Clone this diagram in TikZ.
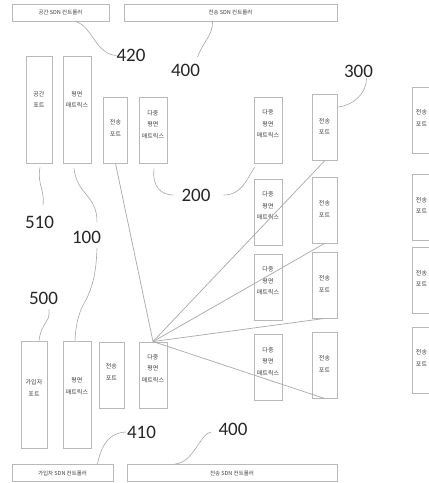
\documentclass[tikz,border=0pt]{standalone}
\usepackage{fontspec}
\newfontfamily\kr{Noto Sans CJK KR}
\newfontfamily\num{Carlito}
\usetikzlibrary{calc,shadows}

\begin{document}
\begin{tikzpicture}[x=1pt,y=-1pt,
  box/.style={draw=gray!55,line width=0.9pt,fill=white,inner sep=0pt,minimum width=28pt,
    drop shadow={shadow xshift=0.6pt,shadow yshift=-0.7pt,opacity=0.3}},
  tall/.style={box,minimum height=107pt},
  short/.style={box,minimum height=66pt},
  txt/.style={font=\kr\fontsize{6}{11.5}\selectfont,text=black!75,align=center,inner sep=0pt},
  ctl/.style={draw=gray!55,line width=0.9pt,fill=white,inner sep=0pt,minimum height=17pt,
    font=\kr\fontsize{5.5}{6}\selectfont,text=black!75},
  ref/.style={font=\num\fontsize{19}{19}\selectfont,text=black!85,inner sep=3pt},
  lead/.style={draw=gray!70,line width=0.6pt},
  link/.style={draw=gray!65,line width=0.75pt}]
  \useasboundingbox (0,0) rectangle (429,483);
  % controllers
  \node[ctl,minimum width=97pt] (csp) at (60.5,12.5) {공간 SDN 컨트롤러};
  \node[ctl,minimum width=213pt] (ctra) at (230.5,12.5) {전송 SDN 컨트롤러};
  \node[ctl,minimum width=101pt] (csub) at (62.5,473) {가입자 SDN 컨트롤러};
  \node[ctl,minimum width=210pt] (ctrb) at (232,473) {전송 SDN 컨트롤러};
  % upper row
  \node[tall,minimum width=26pt,label={[txt,yshift=10pt]center:{공간\\포트}}] (sp) at (39,109.5) {};
  \node[tall,label={[txt,yshift=10pt]center:{평면\\매트릭스}}] (pm1) at (77,109.5) {};
  \node[short,minimum width=24pt,label={[txt,yshift=2pt]center:{전송\\포트}}] (tp0) at (115.5,130) {};
  \node[short,label={[txt,yshift=6pt]center:{다중\\평면\\매트릭스}}] (mp0) at (153,130.5) {};
  % right columns
  \foreach \i/\ym/\yt/\yx in {1/130/127.5/120,2/212/210/207.5,3/287/285/280.5,4/367.5/365/360}{
    \node[short,label={[txt,yshift=6pt]center:{다중\\평면\\매트릭스}}] (mp\i) at (268,\ym) {};
    \node[short,minimum width=25pt,label={[txt,yshift=1pt]center:{전송\\포트}}] (tp\i) at (324.5,\yt) {};
    \node[short,label={[txt,xshift=-4.5pt,yshift=2pt]center:{전송\\포트}}] (xp\i) at (426,\yx) {};
  }
  % lower row
  \node[tall,minimum width=26pt,label={[txt,yshift=6.5pt]center:{가입자\\포트}}] (sub) at (34,394.5) {};
  \node[tall,label={[txt,yshift=8.5pt]center:{평면\\매트릭스}}] (pm2) at (77,394.5) {};
  \node[short,minimum width=25pt,label={[txt,yshift=3pt]center:{전송\\포트}}] (tpb) at (111.5,375) {};
  \node[short,label={[txt,yshift=6.5pt]center:{다중\\평면\\매트릭스}}] (mpb) at (153,375) {};
  % links
  \foreach \t in {tp0,tp1,tp2,tp3,tp4}
    \draw[link] (mpb.north) -- (\t.south);
  % reference numbers
  \node[ref] (r420) at (131,55.5) {420};
  \node[ref] (r400a) at (185.5,70.5) {400};
  \node[ref] (r300) at (358.5,71) {300};
  \node[ref] (r200) at (196,195) {200};
  \node[ref] (r510) at (39.5,222.5) {510};
  \node[ref] (r100) at (86.5,237) {100};
  \node[ref] (r500) at (43.5,298) {500};
  \node[ref] (r410) at (141.5,432) {410};
  \node[ref] (r400b) at (233,429) {400};
  \draw[lead] ([xshift=3pt]r420.west) .. controls (95,54) and (92,25) .. ($(csp.south)+(14.5,0)$);
  \draw[lead] ([xshift=12pt,yshift=4pt]r400a.north) .. controls (203,42) and (213,35) .. ($(ctra.south west)+(89,0)$);
  \draw[lead] ([xshift=8pt,yshift=2pt]r300.south) .. controls +(0,15) and +(15,-2) .. ($(tp1.north east)+(1,13)$);
  \draw[lead] ([xshift=-5pt]r200.west) .. controls +(-12,0) and +(-2,18) .. ($(mp0.south)+(1,5)$);
  \draw[lead] ([xshift=10pt]r200.east) .. controls +(18,0) and +(-8,12) .. ($(mp1.south west)+(1,4)$);
  \draw[lead] ($(sp.south)+(1,4)$) .. controls (37,185) and (45,190) .. ([xshift=3.5pt,yshift=8pt]r510.north);
  \draw[lead] ($(pm1.south)+(-3,5)$) .. controls (77,195) and (97,195) .. ([xshift=10.5pt,yshift=6pt]r100.north);
  \draw[lead] ([xshift=10.5pt,yshift=-2pt]r100.south) .. controls (96,280) and (90,290) .. (87,298)
    .. controls (80,310) and (76,320) .. ($(pm2.north)+(-2,0)$);
  \draw[lead] ([xshift=5.5pt,yshift=-2pt]r500.south) .. controls (50,325) and (42,320) .. ($(sub.north)+(5,0)$);
  \draw[lead] ([xshift=2pt]r410.west) .. controls (105,433) and (100,452) .. ($(csub.north east)+(-16,0)$);
  \draw[lead] ([xshift=-4pt,yshift=-3pt]r400b.west) .. controls (200,433) and (194,463) .. ($(ctrb.north west)+(48,0)$);
\end{tikzpicture}
\end{document}
